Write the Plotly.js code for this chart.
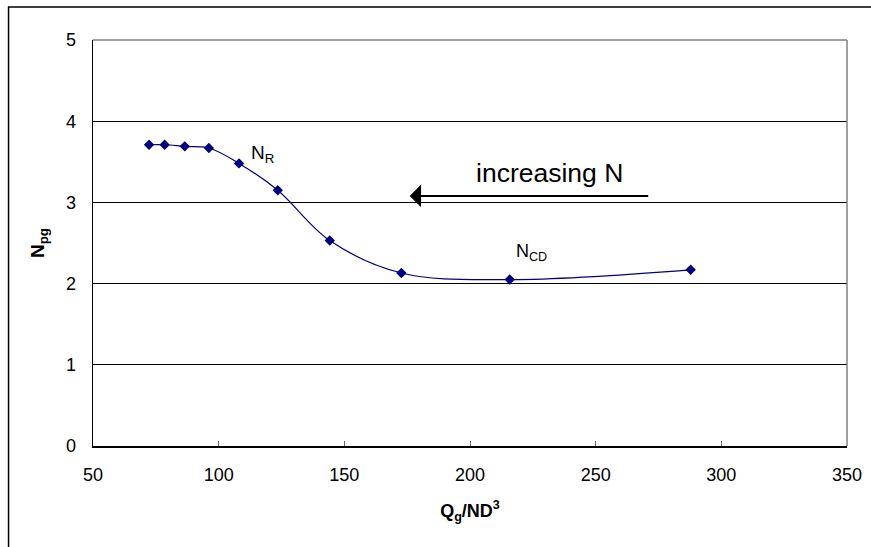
<!DOCTYPE html>
<html>
<head>
<meta charset="utf-8">
<script src="https://cdn.plot.ly/plotly-3.0.1.min.js"></script>
<style>
  html, body { margin: 0; padding: 0; background: #fff; }
  #chart { width: 871px; height: 547px; }
</style>
</head>
<body>
<div id="chart"></div>
<script>
// Data
const flowNumber = [72.3, 78.5, 86.5, 96.1, 108.1, 123.5, 144.2, 172.7, 215.8, 287.8];   // Qg/ND^3
const powerNumber = [3.71, 3.71, 3.69, 3.67, 3.48, 3.15, 2.53, 2.13, 2.05, 2.17];          // Npg
const xTickVals = [50, 100, 150, 200, 250, 300, 350];
const yTickVals = [0, 1, 2, 3, 4, 5];

const FONT = 'Liberation Sans, Arial, sans-serif';
const NAVY = '#000080';

const traces = [
  {
    x: flowNumber, y: powerNumber,
    type: 'scatter', mode: 'lines',
    line: { color: NAVY, width: 1.2, shape: 'spline', smoothing: 1 },
    hoverinfo: 'skip', showlegend: false
  },
  {
    x: flowNumber, y: powerNumber,
    type: 'scatter', mode: 'markers',
    marker: { symbol: 'diamond', size: 8, color: NAVY },
    showlegend: false
  }
];

const layout = {
  width: 871, height: 547,
  margin: { l: 93, r: 24, t: 40, b: 101, pad: 0 },
  paper_bgcolor: '#ffffff', plot_bgcolor: '#ffffff',
  font: { family: FONT, size: 18, color: '#000' },
  showlegend: false,
  xaxis: {
    range: [50, 350], tickvals: xTickVals, ticktext: xTickVals.map(String),
    showgrid: false, zeroline: false,
    showline: true, linecolor: '#000', linewidth: 1.5,
    ticks: 'inside', ticklen: 5, tickcolor: '#666', tickwidth: 1,
    ticklabelstandoff: 12,
    tickfont: { family: FONT, size: 18, color: '#000' },
    title: { text: '<b>Q<sub>g</sub>/ND<sup>3</sup></b>', font: { family: FONT, size: 18, color: '#000' }, standoff: 20 },
    fixedrange: true
  },
  yaxis: {
    range: [0, 5], tickvals: yTickVals, ticktext: yTickVals.map(String),
    showgrid: true, gridcolor: '#000', gridwidth: 1,
    zeroline: false,
    showline: true, linecolor: '#000', linewidth: 1.5,
    ticks: '', ticklabelstandoff: 12,
    tickfont: { family: FONT, size: 18, color: '#000' },
    title: { text: '<b>N<sub>pg</sub></b>', font: { family: FONT, size: 19, color: '#000' }, standoff: 16 },
    fixedrange: true
  },
  shapes: [
    // plot-area frame (top and right edges, grey)
    { type: 'line', xref: 'paper', yref: 'paper', x0: 0, x1: 1, y0: 1, y1: 1, line: { color: '#808080', width: 1.5 } },
    { type: 'line', xref: 'paper', yref: 'paper', x0: 1, x1: 1, y0: 0, y1: 1, line: { color: '#808080', width: 1.5 } },
    // outer chart border
    { type: 'rect', xref: 'paper', yref: 'paper', x0: -0.112, x1: 1.2, y0: -0.4, y1: 1.081, line: { color: '#000', width: 1.5 }, layer: 'above' }
  ],
  annotations: [
    { x: 176, y: 3.08, ax: 271.5, ay: 3.08, xref: 'x', yref: 'y', axref: 'x', ayref: 'y',
      text: '', showarrow: true, arrowhead: 1, arrowsize: 1.9, arrowwidth: 2, arrowcolor: '#000' },
    { x: 231.8, y: 3.36, xref: 'x', yref: 'y', text: 'increasing N', showarrow: false,
      font: { family: FONT, size: 26.5, color: '#000' }, xanchor: 'center', yanchor: 'middle' },
    { x: 117.3, y: 3.6, xref: 'x', yref: 'y', text: 'N<sub>R</sub>', showarrow: false,
      font: { family: FONT, size: 19, color: '#000' }, xanchor: 'center', yanchor: 'middle' },
    { x: 224.5, y: 2.38, xref: 'x', yref: 'y', text: 'N<sub>CD</sub>', showarrow: false,
      font: { family: FONT, size: 18, color: '#000' }, xanchor: 'center', yanchor: 'middle' }
  ]
};

Plotly.newPlot('chart', traces, layout, { displayModeBar: false, staticPlot: true });
</script>
</body>
</html>
